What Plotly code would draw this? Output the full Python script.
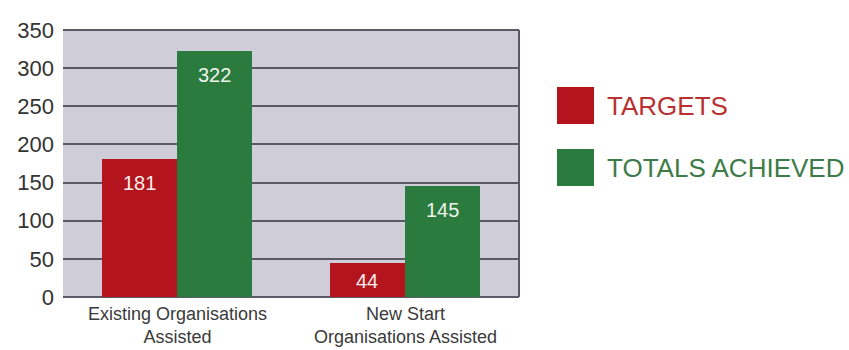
import plotly.graph_objects as go

categories = ["Existing Organisations<br>Assisted", "New Start<br>Organisations Assisted"]
series_names = ["TARGETS", "TOTALS ACHIEVED"]
targets = [181, 44]
totals = [322, 145]
y_ticks = [0, 50, 100, 150, 200, 250, 300, 350]

RED = "#b3141d"
GREEN = "#2b7a3e"
RED_TXT = "#b8302f"
GREEN_TXT = "#3d7b48"

W, H = 849, 350
L, R, T, B = 63, 330, 30, 53
PW, PH = W - L - R, H - T - B

def px_x(px):
    return (px - L) / PW

def px_y(py):
    return 1 - (py - T) / PH

xs = list(range(len(categories)))
bw = 0.33

fig = go.Figure()
fig.add_trace(go.Bar(x=xs, y=targets, width=bw, offset=-bw, marker=dict(color=RED, line_width=0),
                     name=series_names[0], showlegend=False))
fig.add_trace(go.Bar(x=xs, y=totals, width=bw, offset=0, marker=dict(color=GREEN, line_width=0),
                     name=series_names[1], showlegend=False))

ymax = 350
annotations = []
for vals, off, col in [(targets, -bw / 2, "#fbeeee"), (totals, bw / 2, "#eef6ee")]:
    for i, v in enumerate(vals):
        hpx = v / ymax * PH
        shift = -min(24, hpx / 2 + 1)
        annotations.append(dict(x=i + off, y=v, xref="x", yref="y", text=str(v), showarrow=False,
                                yanchor="middle", yshift=shift,
                                font=dict(family="Liberation Sans, Arial", size=20, color=col)))

# category labels
for i, c in enumerate(categories):
    annotations.append(dict(x=i, y=px_y(348), xref="x", yref="paper", text=c,
                            showarrow=False, yanchor="bottom", align="center", borderpad=0,
                            font=dict(family="Liberation Sans, Arial", size=18, color="#3a3a3a")))

# legend
shapes = []
leg = [(series_names[0], RED, RED_TXT, 87), (series_names[1], GREEN, GREEN_TXT, 149)]
for name, col, tcol, top in leg:
    shapes.append(dict(type="rect", xref="paper", yref="paper", x0=px_x(557), x1=px_x(594),
                       y0=px_y(top + 37), y1=px_y(top), fillcolor=col, line_width=0))
    annotations.append(dict(x=px_x(605), y=px_y(top + 18.5), xref="paper", yref="paper", text=name,
                            showarrow=False, xanchor="left", yanchor="middle",
                            font=dict(family="Liberation Sans, Arial", size=26, color=tcol)))

# top and right border
shapes.append(dict(type="line", xref="paper", yref="paper", x0=0, x1=1, y0=1, y1=1,
                   line=dict(color="#5a5a66", width=2)))
shapes.append(dict(type="line", xref="paper", yref="paper", x0=1, x1=1, y0=0, y1=1,
                   line=dict(color="#5a5a66", width=2)))

fig.update_layout(
    width=W, height=H,
    margin=dict(l=L, r=R, t=T, b=B, pad=0),
    paper_bgcolor="white",
    plot_bgcolor="#cfcdd7",
    bargap=0, bargroupgap=0,
    annotations=annotations,
    shapes=shapes,
    showlegend=False,
)
fig.update_xaxes(range=[-0.5, 1.5], showticklabels=False, showgrid=False, zeroline=False,
                 fixedrange=True)
fig.update_yaxes(range=[0, 350], tickvals=y_ticks, showgrid=True, gridcolor="#5a5a66", gridwidth=2,
                 zeroline=True, zerolinecolor="#5a5a66", zerolinewidth=2,
                 ticklabelstandoff=8,
                 tickfont=dict(family="Liberation Sans, Arial", size=22, color="#333333"))

fig.write_html("out.html")
